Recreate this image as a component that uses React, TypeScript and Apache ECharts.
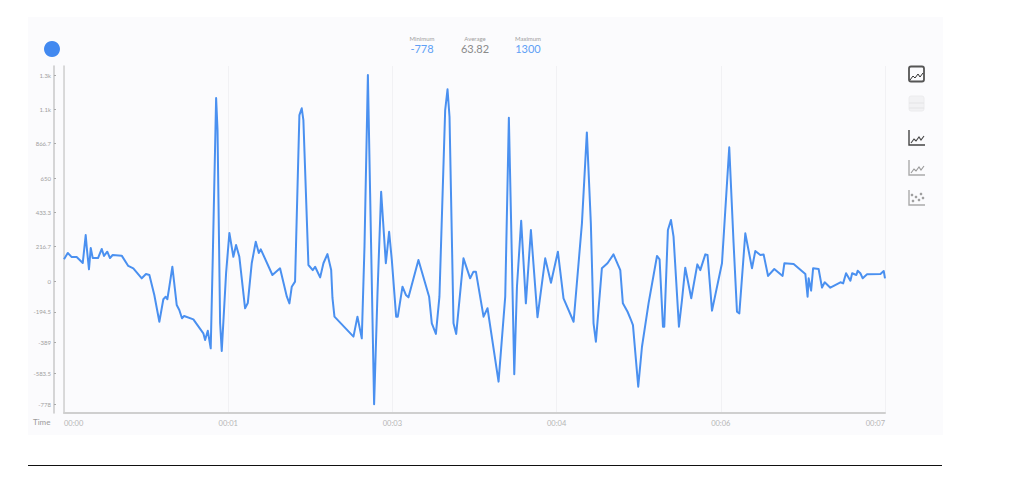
import React, { useEffect, useRef } from "react";
import * as echarts from "echarts";

const timesMs = [0,32,66,108,160,185,196,213,228,245,290,322,341,369,392,415,492,548,591,663,699,728,770,813,847,867,881,896,924,961,983,1006,1024,1103,1188,1203,1226,1251,1268,1297,1309,1331,1345,1382,1410,1444,1467,1495,1544,1567,1601,1635,1661,1678,1777,1842,1900,1922,1942,1970,2007,2027,2041,2084,2121,2141,2184,2212,2246,2278,2289,2306,2468,2502,2539,2562,2591,2610,2644,2673,2704,2744,2772,2795,2832,2846,2886,2915,2937,3022,3113,3136,3171,3201,3250,3270,3287,3321,3344,3406,3463,3491,3512,3577,3611,3705,3762,3793,3813,3839,3862,3898,3938,3981,4037,4103,4152,4211,4259,4345,4416,4458,4492,4515,4535,4586,4634,4685,4743,4765,4805,4834,4851,4896,4928,4984,5056,5078,5107,5118,5149,5175,5197,5243,5269,5297,5348,5400,5425,5468,5487,5525,5610,5672,5709,5738,5758,5809,5866,5894,5937,5965,6003,6056,6127,6142,6221,6321,6340,6349,6370,6387,6434,6463,6486,6534,6620,6643,6668,6705,6720,6756,6767,6790,6810,6847,6961,6989,7000];
const signalValues = [137,177,151,151,114,290,196,74,208,145,145,202,158,185,145,164,160,95,80,17,44,38,-88,-257,-115,-99,-115,-46,90,-151,-183,-235,-221,-242,-330,-372,-314,-425,133,1155,953,-265,-442,50,303,153,227,153,-172,-139,114,248,177,200,38,80,-99,-141,-36,-4,1047,1090,1016,101,69,90,23,112,170,69,-107,-225,-351,-225,-362,216,1300,555,-778,-76,563,112,311,133,-225,-225,-36,-88,-103,133,-99,-267,-334,-99,1079,1210,1037,-267,-334,143,17,59,59,-225,-172,-635,-99,1030,343,-589,-36,380,-141,322,-229,143,-11,185,-109,-257,364,938,364,-267,-383,80,112,168,69,-141,-194,-246,-278,-667,-415,-141,158,137,-288,-288,322,385,280,-288,-120,84,-109,105,69,168,164,-187,112,844,238,-194,-204,301,80,189,164,168,32,76,32,112,107,44,-99,17,-61,80,76,-42,-8,-42,-8,-15,49,2,49,38,65,49,17,42,44,63,17];
const xTickLabels = ["00:00","00:01","00:03","00:04","00:06","00:07"];
const yTickValues = [-778,-583.5,-389,-194.5,0,216.7,433.3,650,866.7,1083,1300];
const yTickLabels = ["-778","-583.5","-389","-194.5","0","216.7","433.3","650","866.7","1.1k","1.3k"];
const stats = [
  { label: "Minimum", value: "-778", color: "#5f9ff5" },
  { label: "Average", value: "63.82", color: "#8a8a8a" },
  { label: "Maximum", value: "1300", color: "#5f9ff5" },
];

const FONT = "Lato, 'Open Sans', sans-serif";
const BLUE = "#4a90f0";

function line(x1: number, y1: number, x2: number, y2: number, stroke: string, lineWidth = 1.5) {
  return { type: "line", shape: { x1, y1, x2, y2 }, style: { stroke, lineWidth } };
}
function poly(points: number[][], stroke: string, lineWidth = 1.2) {
  return { type: "polyline", shape: { points }, style: { stroke, lineWidth, fill: "none" } };
}
const wave = (x: number, y: number) => [[x, y + 6], [x + 3, y + 2], [x + 5, y + 4], [x + 8, y], [x + 10, y + 3], [x + 13, y - 1]];

export default function App() {
  const ref = useRef<HTMLDivElement>(null);
  useEffect(() => {
    const chart = echarts.init(ref.current!, undefined, { renderer: "svg" });
    const statXs = [422, 475, 528];
    chart.setOption({
      animation: false,
      backgroundColor: "#ffffff",
      textStyle: { fontFamily: FONT },
      grid: { left: 64, right: 127, top: 66, bottom: 73, containLabel: false },
      xAxis: {
        type: "value", min: 0, max: 7000, interval: 1400,
        axisLine: { show: true, onZero: false, lineStyle: { color: "#cfcfcf", width: 2 } },
        axisTick: { show: false },
        axisLabel: {
          color: "#b5b5b5", fontSize: 7.5, margin: 6, alignMinLabel: "left", alignMaxLabel: "right",
          formatter: (v: number) => xTickLabels[Math.round(v / 1400)],
        },
        splitLine: { show: true, lineStyle: { color: "#f1f1f4", width: 1 } },
      },
      yAxis: [
        {
          type: "value", min: -833, max: 1357, position: "left", offset: 10,
          axisLine: { show: true, onZero: false, lineStyle: { color: "#c8c8c8", width: 1.5 } },
          axisTick: { show: true, inside: true, length: 2, customValues: yTickValues, lineStyle: { color: "#aaaaaa" } },
          axisLabel: {
            color: "#a0a0a0", fontSize: 6, margin: 3, customValues: yTickValues,
            formatter: (v: number) => yTickLabels[yTickValues.indexOf(v)] ?? String(v),
          },
          splitLine: { show: false },
        },
        {
          type: "value", min: -833, max: 1357, position: "left", offset: 0,
          axisLine: { show: true, onZero: false, lineStyle: { color: "#cfcfcf", width: 1.5 } },
          axisTick: { show: false }, axisLabel: { show: false }, splitLine: { show: false },
        },
      ],
      series: [{
        type: "line", showSymbol: false, yAxisIndex: 0,
        data: timesMs.map((t, i) => [t, signalValues[i]]),
        lineStyle: { color: BLUE, width: 2, join: "round" }, itemStyle: { color: BLUE },
      }],
      graphic: [
        { type: "rect", z: -1, shape: { x: 28, y: 17, width: 915, height: 418 }, style: { fill: "#fbfbfd" } },
        line(28, 465.5, 942, 465.5, "#111111", 1),
        { type: "circle", shape: { cx: 52, cy: 49, r: 8 }, style: { fill: "#4289f0" } },
        { type: "text", x: 33, y: 418, style: { text: "Time", fontSize: 8, fill: "#9a9a9a", fontFamily: FONT } },
        ...stats.flatMap((s, i) => [
          { type: "text", x: statXs[i], y: 35, style: { text: s.label, fontSize: 6, fill: "#a0a0a0", align: "center", fontFamily: FONT } },
          { type: "text", x: statXs[i], y: 43, style: { text: s.value, fontSize: 11, fill: s.color, align: "center", fontFamily: FONT } },
        ]),
        { type: "rect", shape: { x: 909, y: 66.5, width: 15, height: 15, r: 2 }, style: { fill: "none", stroke: "#555555", lineWidth: 1.8 } },
        poly(wave(910, 74), "#333333", 1),
        { type: "rect", shape: { x: 909, y: 96, width: 15, height: 15, r: 2 }, style: { fill: "#f2f2f4", stroke: "#ececee", lineWidth: 1 } },
        line(909, 103, 924, 103, "#e4e4e6", 1),
        line(909, 108, 924, 108, "#e4e4e6", 1),
        poly([[909, 130], [909, 145], [925, 145]], "#444444", 1.4),
        poly(wave(911, 137), "#444444", 1.1),
        poly([[909, 160], [909, 175], [925, 175]], "#aaaaaa", 1.4),
        poly(wave(911, 167), "#999999", 1.1),
        poly([[909, 190], [909, 205], [925, 205]], "#aaaaaa", 1.4),
        ...[[913, 201], [916, 197], [919, 200], [921, 194], [923, 198], [912, 195]].map(([cx, cy]) => ({
          type: "circle", shape: { cx, cy, r: 1.3 }, style: { fill: "#a0a0a0" },
        })),
      ],
    });
    return () => chart.dispose();
  }, []);
  return <div ref={ref} style={{ position: "fixed", left: 0, top: 0, width: 1012, height: 486 }} />;
}
